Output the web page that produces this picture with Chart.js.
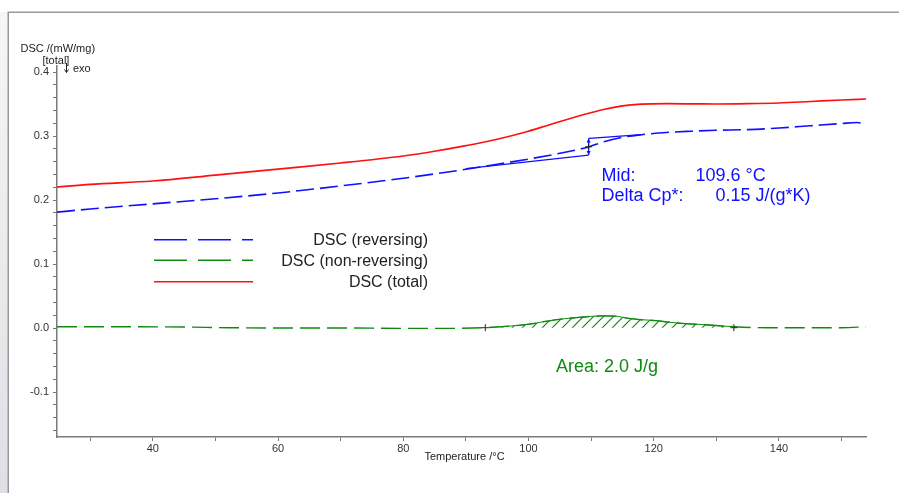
<!DOCTYPE html>
<html><head><meta charset="utf-8">
<script src="https://cdn.jsdelivr.net/npm/chart.js@4/dist/chart.umd.min.js"></script>
<style>html,body{margin:0;padding:0;background:#fff;overflow:hidden}#wrap{position:absolute;left:0;top:0;width:899px;height:493px}</style>
</head><body><div id="wrap"><canvas id="c" width="899" height="493"></canvas></div>
<script>
// ---- data ----
const totalT = [24.7, 30, 40, 50, 60, 70, 80, 85, 90, 95, 100, 103, 106, 109, 112, 115, 118, 122, 126, 130, 135, 140, 145, 150, 153.9];
const totalV = [0.2203, 0.2245, 0.2297, 0.2390, 0.2484, 0.2578, 0.2688, 0.2762, 0.2850, 0.2950, 0.3075, 0.3165, 0.3255, 0.3340, 0.3415, 0.3470, 0.3497, 0.3505, 0.3503, 0.3500, 0.3505, 0.3516, 0.3539, 0.3563, 0.3578];

const revT = [24.7, 30, 40, 50, 60, 70, 80, 90, 95, 100, 104, 107, 109.6, 112, 115, 118, 122, 126, 130, 135, 140, 145, 150, 152.5, 153.9];
const revV = [0.181, 0.186, 0.194, 0.202, 0.211, 0.222, 0.234, 0.248, 0.256, 0.264, 0.271, 0.277, 0.283, 0.291, 0.298, 0.302, 0.3055, 0.3075, 0.309, 0.310, 0.3125, 0.316, 0.3195, 0.321, 0.318];

const nonrevT = [24.7, 35, 45, 52, 60, 70, 80, 88, 93.1, 97, 100.1, 102.5, 104.9, 108.1, 111.8, 114, 116, 118, 120.4, 122.5, 124.5, 128.8, 132.8, 138, 145, 150, 153.9];
const nonrevV = [0.002, 0.002, 0.0015, 0.0005, 0.0, 0.0, -0.0005, -0.0005, 0.0005, 0.003, 0.006, 0.010, 0.0135, 0.0167, 0.019, 0.0185, 0.015, 0.013, 0.0115, 0.009, 0.0073, 0.0047, 0.002, 0.0005, 0.0005, 0.0005, 0.002];

// glass transition evaluation (reversing curve)
const tgMid = 109.6;
const lowTanT = [90, 109.6];
const lowTanV = [0.2492, 0.2703];
const upTanT = [109.6, 118];
const upTanV = [0.2961, 0.3023];
// peak integration limits (non-reversing)
const areaStart = 93.1, areaEnd = 132.8, areaBase = 0.0005;

const xTickValues = [30, 40, 50, 60, 70, 80, 90, 100, 110, 120, 130, 140, 150];
const xTickLabels = ['', '40', '', '60', '', '80', '', '100', '', '120', '', '140', ''];
const yTickValues = [-0.16, -0.14, -0.12, -0.10, -0.08, -0.06, -0.04, -0.02, 0.00, 0.02, 0.04, 0.06, 0.08, 0.10, 0.12, 0.14, 0.16, 0.18, 0.20, 0.22, 0.24, 0.26, 0.28, 0.30, 0.32, 0.34, 0.36, 0.38, 0.40];
const yTickLabels = ['', '', '', '-0.1', '', '', '', '', '0.0', '', '', '', '', '0.1', '', '', '', '', '0.2', '', '', '', '', '0.3', '', '', '', '', '0.4'];

const legendLabels = ['DSC (reversing)', 'DSC (non-reversing)', 'DSC (total)'];
const xTitle = 'Temperature /°C';
const yTitle = 'DSC /(mW/mg)';

// ---- styles ----
const RED = '#ff1010', BLUE = '#1010ff', GREEN = '#108a10';
const FONT = "'Liberation Sans', Arial, sans-serif";

const pts = (T, V) => T.map((t, i) => ({x: t, y: V[i]}));
const areaPts = pts(nonrevT, nonrevV).filter(p => p.x >= areaStart && p.x <= areaEnd);

// hatch pattern
const pc = document.createElement('canvas'); pc.width = 10; pc.height = 10;
const pctx = pc.getContext('2d');
pctx.strokeStyle = GREEN; pctx.lineWidth = 1.2;
pctx.beginPath();
pctx.moveTo(-1, 11); pctx.lineTo(11, -1);
pctx.moveTo(-6, 6); pctx.lineTo(6, -6);
pctx.moveTo(4, 16); pctx.lineTo(16, 4);
pctx.stroke();
const hatch = pctx.createPattern(pc, 'repeat');

const deco = {
  id: 'deco',
  beforeDraw(chart) {
    const ctx = chart.ctx; ctx.save();
    const g = ctx.createLinearGradient(0, 12, 0, 493);
    g.addColorStop(0, '#f6f6f6'); g.addColorStop(1, '#dfe0e4');
    ctx.fillStyle = g; ctx.fillRect(0, 12, 8, 481);
    ctx.strokeStyle = '#9a9a9a'; ctx.lineWidth = 1.5;
    ctx.beginPath(); ctx.moveTo(8.25, 493); ctx.lineTo(8.25, 12.25); ctx.lineTo(899, 12.25); ctx.stroke();
    ctx.restore();
  },
  afterDraw(chart) {
    const ctx = chart.ctx; const a = chart.chartArea;
    ctx.save();
    ctx.textBaseline = 'middle';
    // axis titles
    ctx.fillStyle = '#222'; ctx.font = '11px ' + FONT;
    ctx.textAlign = 'left';
    ctx.fillText(yTitle, 20.5, 48.5);
    ctx.fillText('[total]', 42.5, 61);
    ctx.fillText('exo', 73, 69);
    ctx.strokeStyle = '#222'; ctx.lineWidth = 1;
    ctx.beginPath(); ctx.moveTo(66.5, 63); ctx.lineTo(66.5, 72.5);
    ctx.moveTo(64.5, 69.5); ctx.lineTo(66.5, 72.5); ctx.lineTo(68.5, 69.5); ctx.stroke();
    ctx.textAlign = 'center';
    ctx.fillText(xTitle, (a.left + a.right) / 2 + 3, 457);
    // legend
    const rows = [239.7, 260.3, 281.7];
    const cols = [BLUE, GREEN, RED];
    const dashes = [[33, 11], [33, 11], []];
    ctx.font = '16px ' + FONT; ctx.textAlign = 'right'; ctx.fillStyle = '#222';
    rows.forEach((y, i) => {
      ctx.strokeStyle = cols[i]; ctx.lineWidth = 1.4; ctx.setLineDash(dashes[i]);
      ctx.beginPath(); ctx.moveTo(154, y); ctx.lineTo(253, y); ctx.stroke();
      ctx.setLineDash([]);
      ctx.fillText(legendLabels[i], 428, y + 1);
    });
    // annotations
    ctx.font = '18px ' + FONT; ctx.textAlign = 'left';
    ctx.fillStyle = BLUE;
    ctx.fillText('Mid:', 601.5, 176.5);
    ctx.fillText(tgMid.toFixed(1) + ' °C', 695.5, 176.5);
    ctx.fillText('Delta Cp*:', 601.5, 196);
    ctx.fillText('0.15 J/(g*K)', 715.5, 196);
    ctx.fillStyle = GREEN;
    ctx.fillText('Area: 2.0 J/g', 556, 367.5);
    // small arrowheads on the step line
    const xs = chart.scales.x, ys = chart.scales.y;
    const px = xs.getPixelForValue(tgMid);
    const pLo = ys.getPixelForValue(lowTanV[1]), pHi = ys.getPixelForValue(upTanV[0]);
    ctx.fillStyle = BLUE;
    ctx.beginPath(); ctx.moveTo(px - 2, pLo - 4); ctx.lineTo(px + 2, pLo - 4); ctx.lineTo(px, pLo); ctx.closePath(); ctx.fill();
    ctx.beginPath(); ctx.moveTo(px - 2, pHi + 4); ctx.lineTo(px + 2, pHi + 4); ctx.lineTo(px, pHi); ctx.closePath(); ctx.fill();
    ctx.restore();
  }
};

const lineDs = (data, color, dash, w) => ({type: 'line', data, borderColor: color, borderWidth: w, borderDash: dash, pointRadius: 0, fill: false, tension: 0.3, cubicInterpolationMode: 'monotone'});

new Chart(document.getElementById('c'), {
  type: 'line',
  data: {
    datasets: [
      Object.assign(lineDs(areaPts, GREEN, [], 1), {fill: {value: areaBase}, backgroundColor: hatch}),
      {type: 'scatter', data: [{x: tgMid, y: (lowTanV[1] + upTanV[0]) / 2}, {x: areaStart, y: areaBase}, {x: areaEnd, y: areaBase}], pointStyle: 'cross', pointRadius: 3.5, borderColor: '#222', borderWidth: 1, backgroundColor: '#222'},
      lineDs(pts(lowTanT, lowTanV), BLUE, [], 1.3),
      lineDs(pts(upTanT, upTanV), BLUE, [], 1.3),
      lineDs([{x: tgMid, y: lowTanV[1]}, {x: tgMid, y: upTanV[0]}], BLUE, [], 1.3),
      lineDs(pts(revT, revV), BLUE, [18, 6], 1.6),
      lineDs(pts(nonrevT, nonrevV), GREEN, [20, 7], 1.4),
      lineDs(pts(totalT, totalV), RED, [], 1.7)
    ]
  },
  options: {
    responsive: false, animation: false, devicePixelRatio: 1,
    layout: {padding: {left: 0, top: 66, right: 33, bottom: 0}},
    plugins: {legend: {display: false}, tooltip: {enabled: false}},
    scales: {
      x: {
        type: 'linear', min: 24.7, max: 153.9,
        afterFit: s => { s.height = 56; },
        afterBuildTicks: s => { s.ticks = xTickValues.map(v => ({value: v})); },
        ticks: {autoSkip: false, maxRotation: 0, padding: 1, color: '#333', font: {size: 11, family: FONT},
          callback: (v) => { const i = xTickValues.indexOf(v); return i >= 0 ? xTickLabels[i] : ''; }},
        grid: {drawOnChartArea: false, tickLength: 4, color: '#777'},
        border: {color: '#7a7a7a', width: 1.5}
      },
      y: {
        type: 'linear', min: -0.1703, max: 0.4094,
        afterFit: s => { s.width = 57; },
        afterBuildTicks: s => { s.ticks = yTickValues.map(v => ({value: v})); },
        ticks: {autoSkip: false, padding: 4, color: '#333', font: {size: 11, family: FONT},
          callback: (v) => { const i = yTickValues.findIndex(t => Math.abs(t - v) < 1e-6); return i >= 0 ? yTickLabels[i] : ''; }},
        grid: {drawOnChartArea: false, tickLength: 4, color: '#777'},
        border: {color: '#7a7a7a', width: 1.5}
      }
    }
  },
  plugins: [deco]
});
</script>
</body></html>
